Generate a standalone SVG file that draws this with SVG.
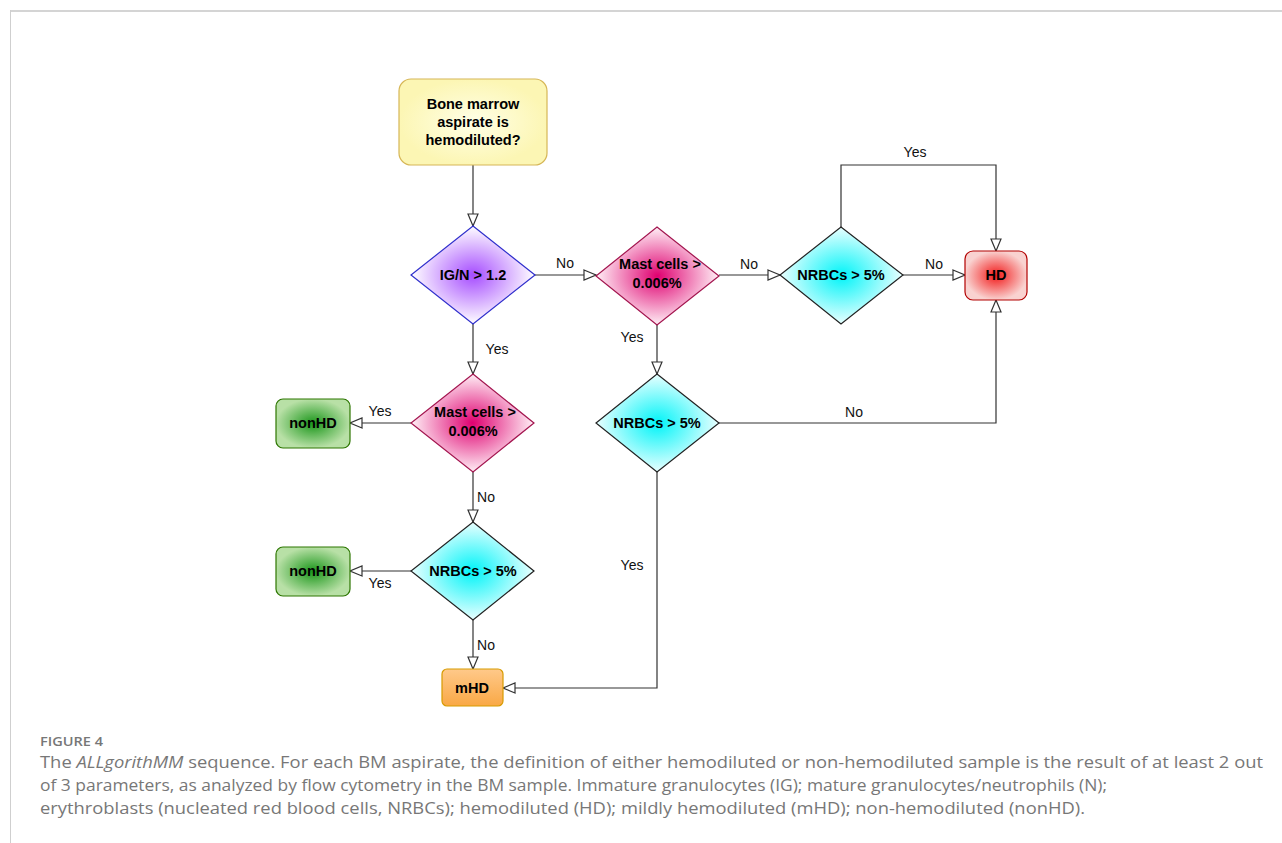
<svg xmlns="http://www.w3.org/2000/svg" width="1282" height="843" viewBox="0 0 1282 843">
<style>
.lbl{font-family:"Liberation Sans",Arial,sans-serif;font-size:14.5px;font-weight:bold;fill:#000;text-anchor:middle}
.el{font-family:"Liberation Sans",Arial,sans-serif;font-size:14px;fill:#111;text-anchor:middle}
.con{fill:none;stroke:#333;stroke-width:1.2}
.cap{font-family:"Open Sans","Noto Sans",sans-serif;fill:#777}
</style>
<defs>
<marker id="arr" markerUnits="userSpaceOnUse" viewBox="0 0 14 12" refX="13" refY="6" markerWidth="14" markerHeight="12" orient="auto">
<path d="M1,1 L13,6 L1,11 Z" fill="#fff" stroke="#333" stroke-width="1.2"/>
</marker>
<radialGradient id="gY"><stop offset="0" stop-color="#ffffe6"/><stop offset="1" stop-color="#fcf6b4"/></radialGradient>
<radialGradient id="gP"><stop offset="0" stop-color="#a64dff"/><stop offset="1" stop-color="#ffffff"/></radialGradient>
<radialGradient id="gM"><stop offset="0" stop-color="#df0070"/><stop offset="1" stop-color="#fff0f6"/></radialGradient>
<radialGradient id="gC"><stop offset="0" stop-color="#00f4f8"/><stop offset="1" stop-color="#eaffff"/></radialGradient>
<radialGradient id="gR"><stop offset="0" stop-color="#f21a1a"/><stop offset="1" stop-color="#f9d2d0"/></radialGradient>
<radialGradient id="gG"><stop offset="0" stop-color="#1a961a"/><stop offset="1" stop-color="#b8e0a6"/></radialGradient>
<linearGradient id="gO" x1="0" y1="0" x2="0" y2="1"><stop offset="0" stop-color="#ffc98a"/><stop offset="1" stop-color="#f9a845"/></linearGradient>
</defs>
<rect width="1282" height="843" fill="#fff"/>
<g id="frame">
<line x1="10" y1="11" x2="1282" y2="11" stroke="#d4d4d4" stroke-width="2"/>
<line x1="10.5" y1="10" x2="10.5" y2="843" stroke="#cfcfcf" stroke-width="1"/>
</g>
<g id="connectors">
<path class="con" d="M473,165 V226" marker-end="url(#arr)"/>
<path class="con" d="M535,275 H596" marker-end="url(#arr)"/>
<path class="con" d="M719,275 H780" marker-end="url(#arr)"/>
<path class="con" d="M903,275 H965" marker-end="url(#arr)"/>
<path class="con" d="M841,227 V165 H996 V251" marker-end="url(#arr)"/>
<path class="con" d="M473,324 V374" marker-end="url(#arr)"/>
<path class="con" d="M657,325 V374" marker-end="url(#arr)"/>
<path class="con" d="M411,423 H350" marker-end="url(#arr)"/>
<path class="con" d="M473,472 V522" marker-end="url(#arr)"/>
<path class="con" d="M411,571 H350" marker-end="url(#arr)"/>
<path class="con" d="M473,620 V669" marker-end="url(#arr)"/>
<path class="con" d="M719,423 H996 V300" marker-end="url(#arr)"/>
<path class="con" d="M657,472 V688 H503" marker-end="url(#arr)"/>
<text class="el" x="565" y="268">No</text>
<text class="el" x="749" y="269">No</text>
<text class="el" x="934" y="269">No</text>
<text class="el" x="915" y="157">Yes</text>
<text class="el" x="497" y="354">Yes</text>
<text class="el" x="632" y="342">Yes</text>
<text class="el" x="380" y="416">Yes</text>
<text class="el" x="486" y="502">No</text>
<text class="el" x="380" y="588">Yes</text>
<text class="el" x="486" y="650">No</text>
<text class="el" x="854" y="417">No</text>
<text class="el" x="632" y="570">Yes</text>
</g>
<g id="start">
<rect x="399" y="79" width="148" height="86" rx="12" fill="url(#gY)" stroke="#d6b656" stroke-width="1.2"/>
<text class="lbl" x="473" y="109">Bone marrow</text>
<text class="lbl" x="473" y="127">aspirate is</text>
<text class="lbl" x="473" y="145">hemodiluted?</text>
</g>
<g id="d-ign">
<polygon points="473,226 535,275 473,324 411,275" fill="url(#gP)" stroke="#2f2fcc" stroke-width="1.2"/>
<text class="lbl" x="473" y="280">IG/N &gt; 1.2</text>
</g>
<g id="d-mast1">
<polygon points="657,227 719,276 657,325 596,276" fill="url(#gM)" stroke="#a3154f" stroke-width="1.2"/>
<text class="lbl" x="660" y="269">Mast cells &gt;</text>
<text class="lbl" x="657" y="288">0.006%</text>
</g>
<g id="d-nrbc1">
<polygon points="841,227 903,275 841,324 780,275" fill="url(#gC)" stroke="#222" stroke-width="1.2"/>
<text class="lbl" x="841" y="280">NRBCs &gt; 5%</text>
</g>
<g id="hd">
<rect x="965" y="251" width="62" height="49" rx="8" fill="url(#gR)" stroke="#b20000" stroke-width="1.2"/>
<text class="lbl" x="996" y="280">HD</text>
</g>
<g id="d-mast2">
<polygon points="473,374 534,423 473,472 411,423" fill="url(#gM)" stroke="#a3154f" stroke-width="1.2"/>
<text class="lbl" x="475" y="417">Mast cells &gt;</text>
<text class="lbl" x="473" y="436">0.006%</text>
</g>
<g id="nonhd1">
<rect x="276" y="399" width="74" height="49" rx="7" fill="url(#gG)" stroke="#2d7600" stroke-width="1.2"/>
<text class="lbl" x="313" y="428">nonHD</text>
</g>
<g id="d-nrbc2">
<polygon points="473,522 534,571 473,620 411,571" fill="url(#gC)" stroke="#222" stroke-width="1.2"/>
<text class="lbl" x="473" y="576">NRBCs &gt; 5%</text>
</g>
<g id="nonhd2">
<rect x="276" y="547" width="74" height="49" rx="7" fill="url(#gG)" stroke="#2d7600" stroke-width="1.2"/>
<text class="lbl" x="313" y="576">nonHD</text>
</g>
<g id="d-nrbc3">
<polygon points="657,374 719,423 657,472 596,423" fill="url(#gC)" stroke="#222" stroke-width="1.2"/>
<text class="lbl" x="657" y="428">NRBCs &gt; 5%</text>
</g>
<g id="mhd">
<rect x="442" y="669" width="61" height="37" rx="5" fill="url(#gO)" stroke="#d79b00" stroke-width="1.2"/>
<text class="lbl" x="472" y="693">mHD</text>
</g>
<g id="caption">
<text class="cap" x="40" y="746" font-size="13" font-weight="600" textLength="63" lengthAdjust="spacingAndGlyphs">FIGURE 4</text>
<text class="cap" x="40" y="768" font-size="16" textLength="1223" lengthAdjust="spacingAndGlyphs">The <tspan font-style="italic">ALLgorithMM</tspan> sequence. For each BM aspirate, the definition of either hemodiluted or non-hemodiluted sample is the result of at least 2 out</text>
<text class="cap" x="40" y="791" font-size="16" textLength="1067" lengthAdjust="spacingAndGlyphs">of 3 parameters, as analyzed by flow cytometry in the BM sample. Immature granulocytes (IG); mature granulocytes/neutrophils (N);</text>
<text class="cap" x="40" y="814" font-size="16" textLength="1045" lengthAdjust="spacingAndGlyphs">erythroblasts (nucleated red blood cells, NRBCs); hemodiluted (HD); mildly hemodiluted (mHD); non-hemodiluted (nonHD).</text>
</g>
</svg>
